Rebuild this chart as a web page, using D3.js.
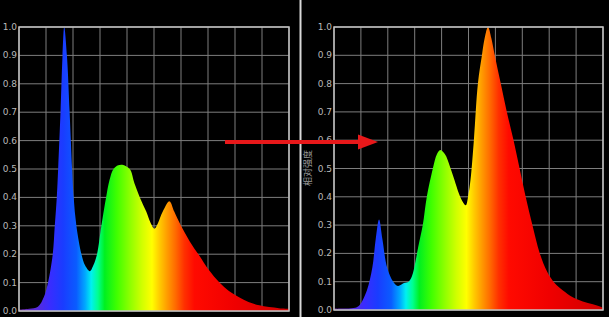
<!DOCTYPE html>
<html>
<head>
<meta charset="utf-8">
<script src="https://cdn.jsdelivr.net/npm/d3@7"></script>
<style>
  html, body { margin: 0; padding: 0; background: #000; }
  svg { display: block; }
</style>
</head>
<body>
<div id="chart"></div>
<script>
let w = 609
let h = 317

// spectrum before (left panel): wavelength (nm) / relative intensity
let beforeWl = [380, 395, 408, 417, 423, 430, 433, 436, 438, 441.5, 444.5, 447, 451, 455, 458.7, 461, 465, 472.5, 478, 485,
  490, 495.6, 502, 509, 514, 520, 527, 533, 544, 551, 559, 568.5, 575, 580.7, 586, 593, 603, 610, 620, 633,
  647, 661, 677, 691, 706, 720, 736, 765, 780]
let beforeVal = [0.005, 0.008, 0.015, 0.05, 0.1, 0.2, 0.3, 0.4, 0.5, 0.7, 0.9, 1.0, 0.9, 0.7, 0.5, 0.4, 0.3, 0.2, 0.16, 0.14,
  0.16, 0.2, 0.3, 0.4, 0.46, 0.5, 0.513, 0.515, 0.5, 0.45, 0.4, 0.35, 0.31, 0.29, 0.31, 0.35, 0.386, 0.35, 0.3, 0.245,
  0.195, 0.145, 0.1, 0.07, 0.048, 0.032, 0.02, 0.01, 0.008]

// spectrum after (right panel)
let afterWl = [380, 389, 414, 419, 429, 437, 442, 447, 452, 459, 468, 475, 484, 491, 496, 501, 505, 512, 518, 527,
  533, 538, 545, 552, 559, 566, 572, 576, 580, 583, 588, 594, 600, 604, 609, 614, 619, 628, 637, 647,
  656, 665, 675, 686, 697, 708, 720, 735, 750, 765, 778, 780]
let afterVal = [0.005, 0.005, 0.01, 0.02, 0.07, 0.15, 0.25, 0.32, 0.25, 0.15, 0.1, 0.085, 0.095, 0.1, 0.12, 0.17, 0.22, 0.3, 0.4, 0.5,
  0.55, 0.565, 0.55, 0.51, 0.46, 0.41, 0.38, 0.37, 0.41, 0.46, 0.6, 0.8, 0.9, 0.96, 1.0, 0.96, 0.9, 0.8, 0.7, 0.6,
  0.5, 0.4, 0.3, 0.2, 0.135, 0.095, 0.07, 0.045, 0.03, 0.02, 0.01, 0.008]

let yTicks = [0, 0.1, 0.2, 0.3, 0.4, 0.5, 0.6, 0.7, 0.8, 0.9, 1.0]
let xTicks = [380, 420, 460, 500, 540, 580, 620, 660, 700, 740, 780]
let axisLabel = "相对强度"

// wavelength -> colour stops for the fill
let spectrumStops = [
  [380, "#6a2a9a"], [405, "#5a2ad8"], [425, "#3a2cff"], [445, "#1a3cff"], [465, "#0a5cff"],
  [478, "#00a8ff"], [487, "#00f0f0"], [497, "#00ff90"], [507, "#00f020"], [525, "#40ff00"],
  [545, "#90ff00"], [562, "#d0ff00"], [577, "#ffff00"], [588, "#ffcc00"], [600, "#ff9a00"],
  [612, "#ff6a00"], [625, "#ff3000"], [640, "#ff0a00"], [700, "#f00000"], [780, "#d00000"]
]

let svg = d3.select("#chart").append("svg")
  .attr("width", w)
  .attr("height", h)
  .style("background", "#000")

let defs = svg.append("defs")

let drawPanel = (id, wl, val, box) => {
  let x = d3.scaleLinear().domain([380, 780]).range([box.left, box.right])
  let y = d3.scaleLinear().domain([0, 1]).range([box.bottom, box.top])
  let g = svg.append("g")

  let grad = defs.append("linearGradient")
    .attr("id", "spec-" + id)
    .attr("gradientUnits", "userSpaceOnUse")
    .attr("x1", x(380)).attr("x2", x(780))
    .attr("y1", 0).attr("y2", 0)
  grad.selectAll("stop").data(spectrumStops).join("stop")
    .attr("offset", d => (d[0] - 380) / 400)
    .attr("stop-color", d => d[1])

  // grid
  g.selectAll(".vgrid").data(xTicks).join("line")
    .attr("x1", d => x(d)).attr("x2", d => x(d))
    .attr("y1", y(0)).attr("y2", y(1))
    .attr("stroke", "#7e7e7e").attr("stroke-width", 1)
  g.selectAll(".hgrid").data(yTicks).join("line")
    .attr("x1", x(380)).attr("x2", x(780))
    .attr("y1", d => y(d)).attr("y2", d => y(d))
    .attr("stroke", "#7e7e7e").attr("stroke-width", 1)

  let data = wl.map((d, i) => ({ wl: d, v: val[i] }))
  let area = d3.area()
    .x(d => x(d.wl))
    .y0(y(0))
    .y1(d => y(d.v))
    .curve(d3.curveCatmullRom.alpha(0.5))

  g.append("path")
    .datum(data)
    .attr("d", area)
    .attr("fill", "url(#spec-" + id + ")")

  // frame
  g.append("rect")
    .attr("x", x(380)).attr("y", y(1))
    .attr("width", x(780) - x(380)).attr("height", y(0) - y(1))
    .attr("fill", "none")
    .attr("stroke", "#c4c4c4").attr("stroke-width", 1.5)

  // y labels
  g.selectAll(".ylab").data(yTicks).join("text")
    .attr("x", box.left - 2)
    .attr("y", d => y(d) + 3)
    .attr("text-anchor", "end")
    .attr("font-family", "DejaVu Sans, sans-serif")
    .attr("font-size", 9)
    .attr("fill", "#b8b8b8")
    .text(d => d.toFixed(1))
}

drawPanel("before", beforeWl, beforeVal, { left: 19, right: 289, top: 27, bottom: 311 })
drawPanel("after", afterWl, afterVal, { left: 334, right: 603, top: 27, bottom: 310 })

// divider between the two screenshots
svg.append("line")
  .attr("x1", 300.5).attr("x2", 300.5)
  .attr("y1", 0).attr("y2", h)
  .attr("stroke", "#d8d8d8").attr("stroke-width", 2)

// small rotated axis title on the right panel
svg.append("text")
  .attr("transform", "translate(311,168) rotate(-90)")
  .attr("text-anchor", "middle")
  .attr("font-family", "Noto Sans CJK SC, sans-serif")
  .attr("font-size", 9)
  .attr("fill", "#9a9a9a")
  .text(axisLabel)

// red arrow
svg.append("line")
  .attr("x1", 225).attr("x2", 360)
  .attr("y1", 142).attr("y2", 142)
  .attr("stroke", "#e8181a").attr("stroke-width", 4)
svg.append("path")
  .attr("d", "M358,134.5 L378,142 L358,149.5 Z")
  .attr("fill", "#e8181a")
</script>
</body>
</html>
